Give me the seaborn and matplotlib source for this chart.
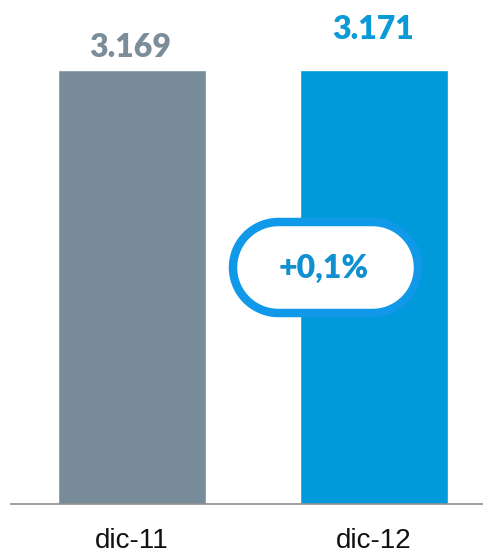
import matplotlib
matplotlib.use("Agg")
import matplotlib.pyplot as plt
from matplotlib.patches import Polygon
import numpy as np
import seaborn as sns

# Data
periods = ["dic-11", "dic-12"]
values = [3.169, 3.171]
value_labels = ["3.169", "3.171"]
change_label = "+0,1%"

bar_colors = ["#778C98", "#009ADA"]
label_colors = ["#7A8D98", "#0A9AD8"]

sns.set_theme(style="white")
plt.rcParams["font.family"] = ["Liberation Sans", "DejaVu Sans"]

fig = plt.figure(figsize=(4.83, 5.54), dpi=100)
ax = fig.add_axes([11 / 483, 50 / 554, 472 / 483, 504 / 554])

sns.barplot(x=periods, y=values, hue=periods, palette=bar_colors,
            width=0.612, saturation=1, legend=False, ax=ax)

ax.set_xlim(-0.5, 1.4504)
ax.set_ylim(0, 3.681)
ax.set_xlabel("")
ax.set_ylabel("")
ax.set_yticks([])
for side in ["top", "right", "left"]:
    ax.spines[side].set_visible(False)
ax.spines["bottom"].set_color("#8C8C8C")
ax.spines["bottom"].set_linewidth(1.2)
ax.tick_params(axis="x", length=0, pad=17, labelsize=20, labelcolor="#111111")

# value labels above the bars
offsets = [16, 29]
for i, (v, txt) in enumerate(zip(values, value_labels)):
    ax.annotate(txt, xy=(i, v), xytext=(-1, offsets[i]), textcoords="offset points",
                ha="center", va="center", fontsize=23, fontweight="heavy",
                family=["Lato", "DejaVu Sans"], color=label_colors[i])


def pill_outline(x0, y0, w, h, n=60):
    """Stadium outline with true semicircular ends, as polygon vertices."""
    r = h / 2
    yc = y0 + r
    t_right = np.linspace(-np.pi / 2, np.pi / 2, n)
    t_left = np.linspace(np.pi / 2, 3 * np.pi / 2, n)
    right = np.column_stack([x0 + w - r + r * np.cos(t_right), yc + r * np.sin(t_right)])
    left = np.column_stack([x0 + r + r * np.cos(t_left), yc + r * np.sin(t_left)])
    return np.vstack([right, left])


# pill with the year-on-year change (inch coordinates)
pill = Polygon(pill_outline(2.33, 2.41, 1.85, 0.91), closed=True,
               transform=fig.dpi_scale_trans, facecolor="white",
               edgecolor="#0F99E8", linewidth=6.1, joinstyle="round", zorder=5)
fig.patches.append(pill)
fig.text(3.235, 2.855, change_label, transform=fig.dpi_scale_trans,
         ha="center", va="center", fontsize=23, fontweight="heavy",
         family=["Lato", "DejaVu Sans"], color="#1090D0", zorder=6)

fig.savefig("out.png", dpi=100)
